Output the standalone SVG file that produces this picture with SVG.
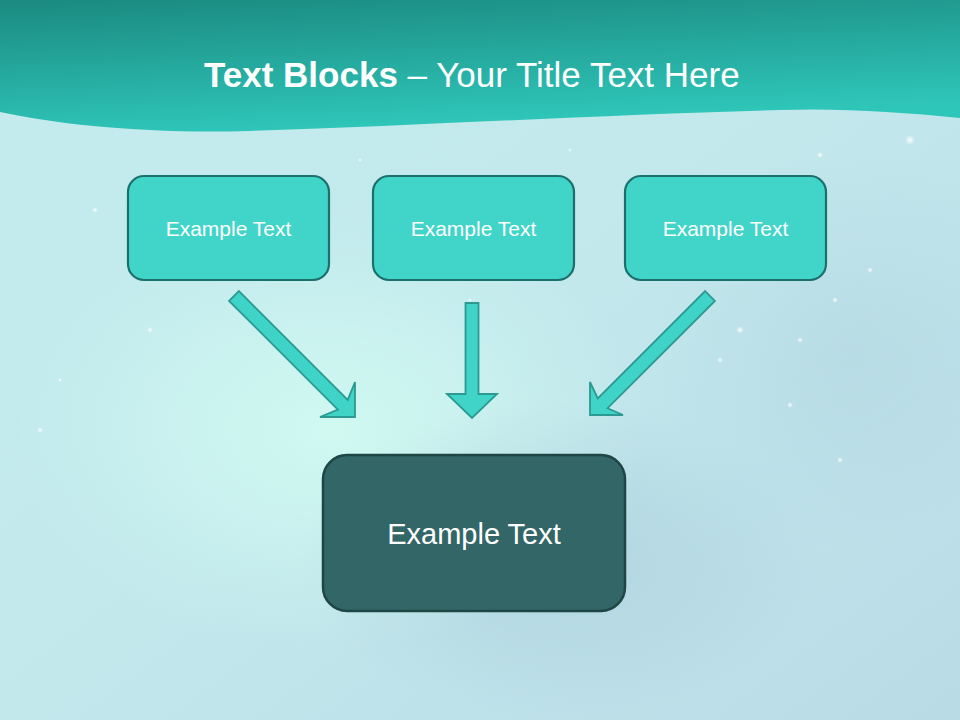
<svg xmlns="http://www.w3.org/2000/svg" width="960" height="720" viewBox="0 0 960 720">
<defs>
<linearGradient id="bg" x1="0" y1="0" x2="1" y2="1">
<stop offset="0" stop-color="#c4ecee"/>
<stop offset="0.5" stop-color="#c2e8ec"/>
<stop offset="1" stop-color="#b9dbe6"/>
</linearGradient>
<radialGradient id="glow1" cx="0.5" cy="0.5" r="0.5">
<stop offset="0" stop-color="#d2fbf2" stop-opacity="0.9"/>
<stop offset="1" stop-color="#d2fbf2" stop-opacity="0"/>
</radialGradient>
<radialGradient id="glow2" cx="0.5" cy="0.5" r="0.5">
<stop offset="0" stop-color="#a9ccd8" stop-opacity="0.6"/>
<stop offset="1" stop-color="#a9ccd8" stop-opacity="0"/>
</radialGradient>
<radialGradient id="star" cx="0.5" cy="0.5" r="0.5">
<stop offset="0" stop-color="#ffffff" stop-opacity="0.9"/>
<stop offset="1" stop-color="#ffffff" stop-opacity="0"/>
</radialGradient>
<linearGradient id="band" x1="0" y1="0" x2="0.3" y2="1">
<stop offset="0" stop-color="#1b8a80"/>
<stop offset="1" stop-color="#2fc6ba"/>
</linearGradient>
<style>
.box{fill:#41d5c9;stroke:#1c706c;stroke-width:2.2}
.main{fill:#336666;stroke:#1d4645;stroke-width:2.5}
.arrow{fill:#40d3c7;stroke:#2a9a92;stroke-width:1.8;stroke-linejoin:miter}
.lbl{font-family:"Liberation Sans",Arial,sans-serif;fill:#ffffff;text-anchor:middle}
.title{font-family:"Liberation Sans",Arial,sans-serif;fill:#ffffff;font-size:35px}
</style>
</defs>
<rect width="960" height="720" fill="url(#bg)"/>
<ellipse cx="330" cy="430" rx="320" ry="220" fill="url(#glow1)"/>
<ellipse cx="560" cy="560" rx="260" ry="160" fill="url(#glow2)"/>
<ellipse cx="850" cy="350" rx="200" ry="200" fill="url(#glow2)" opacity="0.5"/>
<g fill="url(#star)">
<circle cx="910" cy="140" r="5"/>
<circle cx="820" cy="155" r="3"/>
<circle cx="760" cy="180" r="3"/>
<circle cx="870" cy="270" r="3"/>
<circle cx="835" cy="300" r="3"/>
<circle cx="740" cy="330" r="4"/>
<circle cx="800" cy="340" r="3"/>
<circle cx="720" cy="360" r="3"/>
<circle cx="790" cy="405" r="3"/>
<circle cx="840" cy="460" r="3"/>
<circle cx="95" cy="210" r="3"/>
<circle cx="40" cy="430" r="3"/>
<circle cx="60" cy="380" r="2"/>
<circle cx="150" cy="330" r="3"/>
<circle cx="700" cy="250" r="3"/>
<circle cx="360" cy="160" r="2"/>
<circle cx="570" cy="150" r="2"/>
<circle cx="470" cy="300" r="2"/>
</g>
<path d="M0 0 H960 V118 C900 112 840 108 780 110 C620 114 430 125 250 131 C150 134 60 125 0 112 Z" fill="url(#band)"/>
<text class="title" x="204" y="87"><tspan font-weight="bold">Text Blocks</tspan> – Your Title Text Here</text>
<g id="connectors">
<path class="arrow" d="M229.1 300.9 L238.9 291.1 L347.7 399.9 L355 382 L355 417 L320 417 L337.9 409.7 Z"/>
<path class="arrow" d="M465.5 303 L478.5 303 L478.5 394 L497 394 L472 418 L447 394 L465.5 394 Z"/>
<path class="arrow" d="M705.1 291.1 L714.9 300.9 L607.6 408.2 L623 415 L590 415 L590 382 L597.8 398.4 Z"/>
</g>
<g id="node1">
<rect class="box" x="128" y="176" width="201" height="104" rx="16"/>
<text class="lbl" x="228.5" y="236" font-size="21">Example Text</text>
</g>
<g id="node2">
<rect class="box" x="373" y="176" width="201" height="104" rx="16"/>
<text class="lbl" x="473.5" y="236" font-size="21">Example Text</text>
</g>
<g id="node3">
<rect class="box" x="625" y="176" width="201" height="104" rx="16"/>
<text class="lbl" x="725.5" y="236" font-size="21">Example Text</text>
</g>
<g id="node4">
<rect class="main" x="323" y="455" width="302" height="156" rx="24"/>
<text class="lbl" x="474" y="544" font-size="29">Example Text</text>
</g>
</svg>
